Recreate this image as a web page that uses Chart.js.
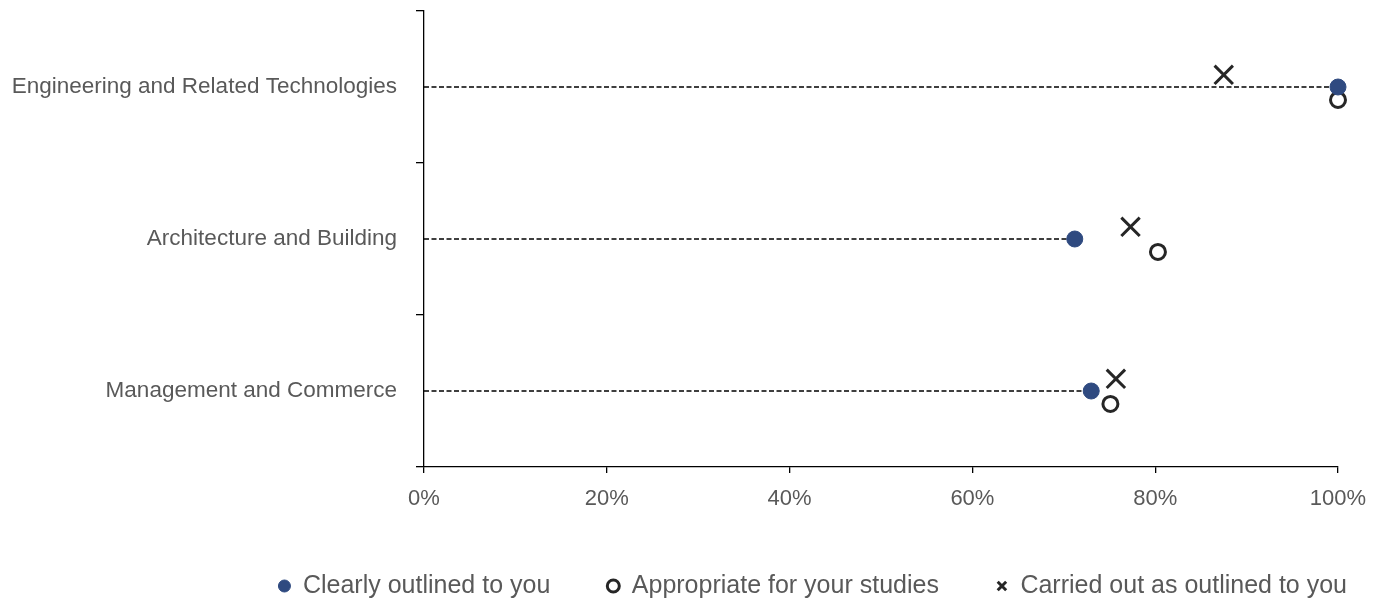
<!DOCTYPE html>
<html>
<head>
<meta charset="utf-8">
<script src="https://cdn.jsdelivr.net/npm/chart.js@4/dist/chart.umd.min.js"></script>
<style>
    html, body { margin: 0; padding: 0; background: #fff; }
    #wrap { width: 1383px; height: 602px; }
</style>
</head>
<body>
<div id="wrap"><canvas id="chart"></canvas></div>
<script>
"use strict";

// data
const categories = ['Engineering and Related Technologies', 'Architecture and Building', 'Management and Commerce'];
const seriesNames = ['Clearly outlined to you', 'Appropriate for your studies', 'Carried out as outlined to you'];
const clearlyOutlined = [100, 71.2, 73.0];
const appropriate = [100, 80.3, 75.1];
const carriedOut = [87.5, 77.3, 75.7];
const xTicks = [0, 20, 40, 60, 80, 100];

const textColor = '#595959',
    axisColor = '#000000',
    blue = '#2F4A80',
    dark = '#262626',
    font = '"Liberation Sans", Arial, sans-serif';

// small vertical shift so the three markers of one row don't sit on top of each other
const SHIFT_UP = -0.08, SHIFT_DOWN = 0.085;

const points = (values, shift) => values.map((v, i) => ({x: v, y: i + shift}));

const guideLines = clearlyOutlined.map((v, i) => ({
    label: '_guide' + i,
    data: [{x: 0, y: i}, {x: v, y: i}],
    showLine: true,
    borderColor: '#000',
    borderWidth: 1.6,
    borderDash: [5, 2.5],
    pointRadius: 0,
    order: 10
}));

const ctx = document.getElementById('chart').getContext('2d');

new Chart(ctx, {
    type: 'scatter',
    data: {
        datasets: [
            {
                label: seriesNames[0],
                data: points(clearlyOutlined, 0),
                pointStyle: 'circle',
                pointRadius: 8,
                backgroundColor: blue,
                borderColor: blue,
                borderWidth: 1,
                clip: false,
                order: 1
            },
            {
                label: seriesNames[1],
                data: points(appropriate, SHIFT_DOWN),
                pointStyle: 'circle',
                pointRadius: 7.5,
                backgroundColor: 'rgba(0,0,0,0)',
                borderColor: dark,
                borderWidth: 3,
                clip: false,
                order: 2
            },
            {
                label: seriesNames[2],
                data: points(carriedOut, SHIFT_UP),
                pointStyle: 'crossRot',
                pointRadius: 13,
                borderColor: dark,
                borderWidth: 3,
                clip: false,
                order: 3
            },
            ...guideLines
        ]
    },
    options: {
        responsive: true,
        maintainAspectRatio: false,
        animation: false,
        // negative right/bottom padding lets the legend sit further right/lower than the plot
        layout: {autoPadding: false, padding: {left: 0, right: -21, top: 11, bottom: -6.5}},
        plugins: {
            tooltip: {enabled: false},
            legend: {
                position: 'bottom',
                align: 'end',
                labels: {
                    usePointStyle: true,
                    boxHeight: 8.5,
                    pointStyleWidth: 12,
                    padding: 57,
                    color: textColor,
                    font: {family: font, size: 25},
                    filter: item => !item.text.startsWith('_')
                }
            }
        },
        scales: {
            x: {
                type: 'linear',
                min: 0,
                max: 100,
                afterBuildTicks: scale => { scale.ticks = xTicks.map(v => ({value: v})); },
                afterFit: scale => {
                    scale.height = 49.5;
                    scale.paddingRight = 45;
                    scale.paddingLeft = 0;
                },
                border: {display: true, color: axisColor, width: 1.3},
                grid: {drawOnChartArea: false, drawTicks: true, tickLength: 6, color: axisColor, lineWidth: 1.3},
                ticks: {
                    color: textColor,
                    padding: 13,
                    maxRotation: 0,
                    font: {family: font, size: 22},
                    callback: v => v + '%'
                }
            },
            y: {
                type: 'linear',
                min: -0.5,
                max: 2.5,
                reverse: true,
                afterBuildTicks: scale => {
                    const t = [];
                    for (let v = -0.5; v <= 2.5; v += 0.5) t.push({value: v});
                    scale.ticks = t;
                },
                afterFit: scale => {
                    scale.width = 424;
                    scale.paddingTop = 0;
                    scale.paddingBottom = 0;
                },
                border: {display: true, color: axisColor, width: 1.3},
                grid: {
                    drawOnChartArea: false,
                    drawTicks: true,
                    tickLength: 8,
                    lineWidth: 1.3,
                    color: c => Number.isInteger(c.tick.value) ? 'rgba(0,0,0,0)' : axisColor
                },
                ticks: {
                    color: textColor,
                    padding: 19,
                    autoSkip: false,
                    font: {family: font, size: 22.5},
                    callback: v => Number.isInteger(v) ? categories[v] : ''
                }
            }
        }
    }
});
</script>
</body>
</html>
